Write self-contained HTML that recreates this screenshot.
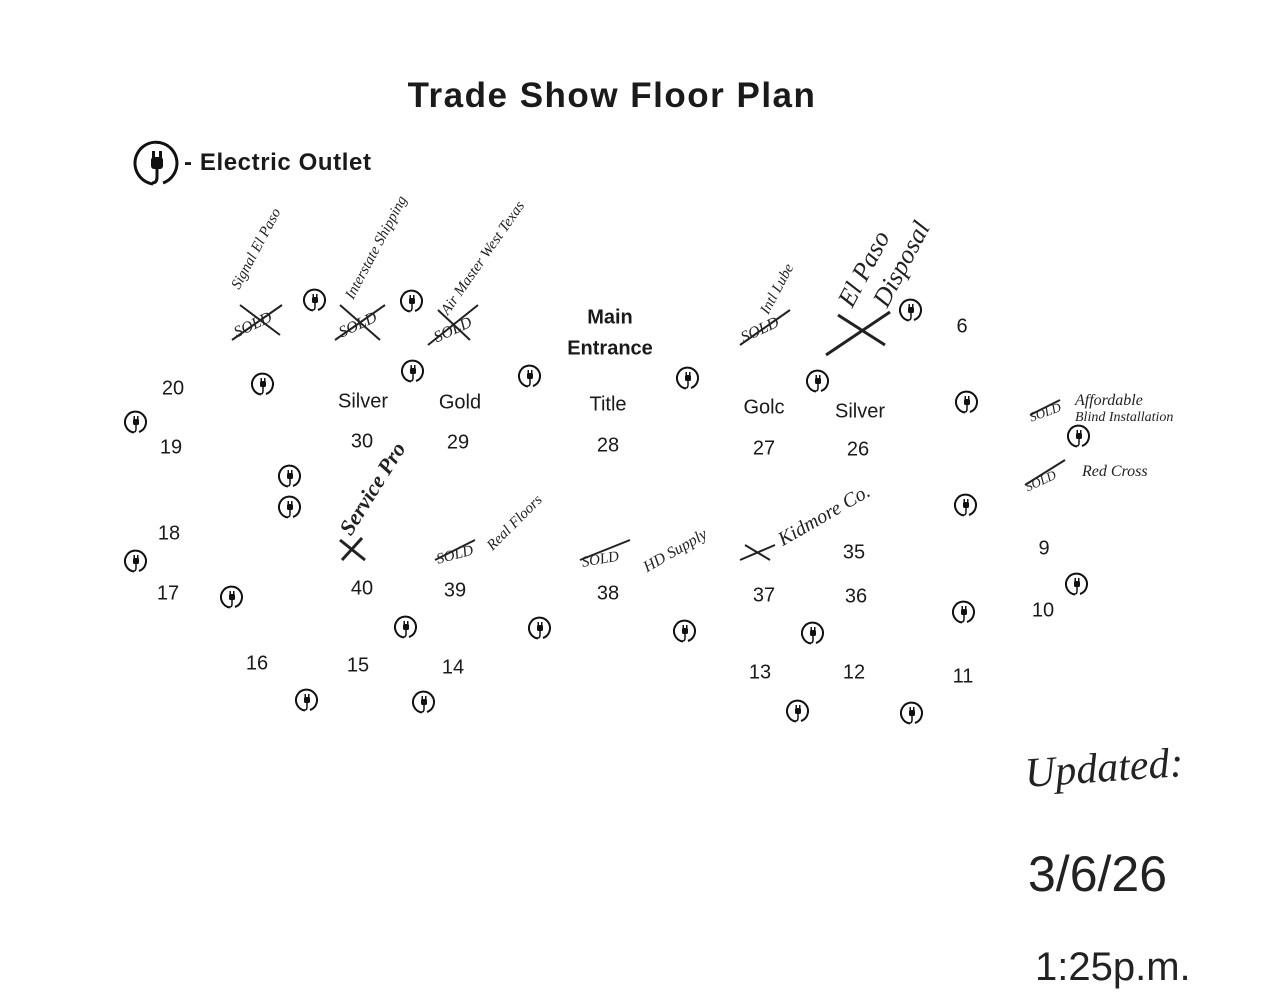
<!DOCTYPE html>
<html><head><meta charset="utf-8"><style>
body{margin:0;width:1278px;height:1000px;background:#fff;position:relative;overflow:hidden;font-family:"Liberation Sans",sans-serif;color:#1a1a1a}
.t{position:absolute;transform:translate(-50%,-50%);font-size:20px;white-space:nowrap}
.h{position:absolute;transform-origin:left center;font-family:"Liberation Serif",serif;font-style:italic;white-space:nowrap;color:#222}
.o{position:absolute;width:24px;height:24px;margin:-12px 0 0 -12px}
</style></head><body>
<div class="t" style="left:612px;top:96px;font-size:35px;font-weight:bold;letter-spacing:1.5px">Trade Show Floor Plan</div>
<svg style="position:absolute;left:133px;top:139px" width="48" height="48" viewBox="0 0 48 48"><path d="M20 45 A21 21 0 1 1 30 44" fill="none" stroke="#111" stroke-width="3"/><rect x="18" y="18" width="12" height="12" rx="3" fill="#111"/><rect x="19" y="12" width="3" height="7" fill="#111"/><rect x="26" y="12" width="3" height="7" fill="#111"/><path d="M24 30 V38 Q24 44 19 44" fill="none" stroke="#111" stroke-width="3"/></svg>
<div style="position:absolute;left:184px;top:149px;font-size:24px;font-weight:bold;letter-spacing:0.6px;white-space:nowrap">- Electric Outlet</div>

<div class="t" style="left:173px;top:389px">20</div>
<div class="t" style="left:171px;top:448px">19</div>
<div class="t" style="left:169px;top:534px">18</div>
<div class="t" style="left:168px;top:594px">17</div>
<div class="t" style="left:257px;top:664px">16</div>
<div class="t" style="left:358px;top:666px">15</div>
<div class="t" style="left:453px;top:668px">14</div>
<div class="t" style="left:363px;top:402px">Silver</div>
<div class="t" style="left:362px;top:442px">30</div>
<div class="t" style="left:460px;top:403px">Gold</div>
<div class="t" style="left:458px;top:443px">29</div>
<div class="t" style="left:610px;top:318px;font-weight:bold">Main</div>
<div class="t" style="left:610px;top:349px;font-weight:bold">Entrance</div>
<div class="t" style="left:608px;top:405px">Title</div>
<div class="t" style="left:608px;top:446px">28</div>
<div class="t" style="left:764px;top:408px">Golc</div>
<div class="t" style="left:764px;top:449px">27</div>
<div class="t" style="left:860px;top:412px">Silver</div>
<div class="t" style="left:858px;top:450px">26</div>
<div class="t" style="left:962px;top:327px">6</div>
<div class="t" style="left:362px;top:589px">40</div>
<div class="t" style="left:455px;top:591px">39</div>
<div class="t" style="left:608px;top:594px">38</div>
<div class="t" style="left:764px;top:596px">37</div>
<div class="t" style="left:856px;top:597px">36</div>
<div class="t" style="left:854px;top:553px">35</div>
<div class="t" style="left:1044px;top:549px">9</div>
<div class="t" style="left:1043px;top:611px">10</div>
<div class="t" style="left:760px;top:673px">13</div>
<div class="t" style="left:854px;top:673px">12</div>
<div class="t" style="left:963px;top:677px">11</div>

<svg width="0" height="0" style="position:absolute"><defs><symbol id="ol" viewBox="0 0 48 48"><path d="M20 45 A21 21 0 1 1 30 44" fill="none" stroke="#111" stroke-width="4"/><rect x="18" y="18" width="12" height="12" rx="3" fill="#111"/><rect x="19" y="12" width="3" height="7" fill="#111"/><rect x="26" y="12" width="3" height="7" fill="#111"/><path d="M24 30 V38 Q24 44 19 44" fill="none" stroke="#111" stroke-width="3"/></symbol></defs></svg>
<svg class="o" style="left:315px;top:300px"><use href="#ol"/></svg>
<svg class="o" style="left:412px;top:301px"><use href="#ol"/></svg>
<svg class="o" style="left:263px;top:384px"><use href="#ol"/></svg>
<svg class="o" style="left:413px;top:371px"><use href="#ol"/></svg>
<svg class="o" style="left:530px;top:376px"><use href="#ol"/></svg>
<svg class="o" style="left:688px;top:378px"><use href="#ol"/></svg>
<svg class="o" style="left:818px;top:381px"><use href="#ol"/></svg>
<svg class="o" style="left:911px;top:310px"><use href="#ol"/></svg>
<svg class="o" style="left:967px;top:402px"><use href="#ol"/></svg>
<svg class="o" style="left:136px;top:422px"><use href="#ol"/></svg>
<svg class="o" style="left:290px;top:476px"><use href="#ol"/></svg>
<svg class="o" style="left:290px;top:507px"><use href="#ol"/></svg>
<svg class="o" style="left:966px;top:505px"><use href="#ol"/></svg>
<svg class="o" style="left:136px;top:561px"><use href="#ol"/></svg>
<svg class="o" style="left:232px;top:597px"><use href="#ol"/></svg>
<svg class="o" style="left:406px;top:627px"><use href="#ol"/></svg>
<svg class="o" style="left:540px;top:628px"><use href="#ol"/></svg>
<svg class="o" style="left:685px;top:631px"><use href="#ol"/></svg>
<svg class="o" style="left:813px;top:633px"><use href="#ol"/></svg>
<svg class="o" style="left:964px;top:612px"><use href="#ol"/></svg>
<svg class="o" style="left:1077px;top:584px"><use href="#ol"/></svg>
<svg class="o" style="left:1079px;top:436px"><use href="#ol"/></svg>
<svg class="o" style="left:307px;top:700px"><use href="#ol"/></svg>
<svg class="o" style="left:424px;top:702px"><use href="#ol"/></svg>
<svg class="o" style="left:798px;top:711px"><use href="#ol"/></svg>
<svg class="o" style="left:912px;top:713px"><use href="#ol"/></svg>

<svg style="position:absolute;left:0;top:0" width="1278" height="1000" fill="none" stroke="#222" stroke-width="2">
<path d="M232 340 L282 305 M240 305 L280 335"/>
<path d="M335 340 L385 305 M340 305 L380 340"/>
<path d="M428 345 L478 305 M438 310 L470 340"/>
<path d="M740 345 L790 310"/>
<path d="M826 355 L890 312 M838 315 L885 345" stroke-width="3"/>
<path d="M340 540 L365 560 M342 560 L362 538" stroke-width="3"/>
<path d="M435 560 L475 540"/><path d="M580 560 L630 540"/><path d="M740 560 L775 545 M745 545 L770 560"/>
<path d="M1030 415 L1060 400"/><path d="M1025 485 L1065 460"/>
</svg>
<div class="h" style="left:235px;top:325px;font-size:16px;transform:rotate(-25deg)">SOLD</div>
<div class="h" style="left:340px;top:325px;font-size:16px;transform:rotate(-25deg)">SOLD</div>
<div class="h" style="left:435px;top:330px;font-size:16px;transform:rotate(-25deg)">SOLD</div>
<div class="h" style="left:742px;top:330px;font-size:16px;transform:rotate(-25deg)">SOLD</div>
<div class="h" style="left:437px;top:552px;font-size:15px;transform:rotate(-15deg)">SOLD</div>
<div class="h" style="left:582px;top:555px;font-size:15px;transform:rotate(-10deg)">SOLD</div>
<div class="h" style="left:1030px;top:410px;font-size:13px;transform:rotate(-20deg)">SOLD</div>
<div class="h" style="left:1026px;top:480px;font-size:13px;transform:rotate(-25deg)">SOLD</div>
<div class="h" style="left:236px;top:280px;font-size:15px;transform:rotate(-62deg)">Signal El Paso</div>
<div class="h" style="left:350px;top:290px;font-size:15px;transform:rotate(-62deg)">Interstate Shipping</div>
<div class="h" style="left:445px;top:305px;font-size:15px;transform:rotate(-55deg)">Air Master West Texas</div>
<div class="h" style="left:765px;top:305px;font-size:15px;transform:rotate(-62deg)">Intl Lube</div>
<div class="h" style="left:845px;top:290px;font-size:26px;transform:rotate(-62deg)">El Paso</div>
<div class="h" style="left:880px;top:290px;font-size:26px;transform:rotate(-62deg)">Disposal</div>
<div class="h" style="left:345px;top:520px;font-size:22px;font-weight:bold;transform:rotate(-58deg)">Service Pro</div>
<div class="h" style="left:490px;top:540px;font-size:15px;transform:rotate(-45deg)">Real Floors</div>
<div class="h" style="left:645px;top:560px;font-size:16px;transform:rotate(-30deg)">HD Supply</div>
<div class="h" style="left:780px;top:530px;font-size:20px;transform:rotate(-30deg)">Kidmore Co.</div>
<div class="h" style="left:1075px;top:392px;font-size:16px">Affordable</div>
<div class="h" style="left:1075px;top:410px;font-size:14px">Blind Installation</div>
<div class="h" style="left:1082px;top:463px;font-size:16px">Red Cross</div>
<div class="h" style="left:1025px;top:750px;font-size:42px;transform:rotate(-4deg)">Updated:</div>
<div class="h" style="left:1028px;top:845px;font-size:50px;font-style:normal;font-family:'Liberation Sans',sans-serif;font-weight:300">3/6/26</div>
<div class="h" style="left:1035px;top:945px;font-size:40px;font-style:normal;font-family:'Liberation Sans',sans-serif">1:25p.m.</div>
</body></html>
